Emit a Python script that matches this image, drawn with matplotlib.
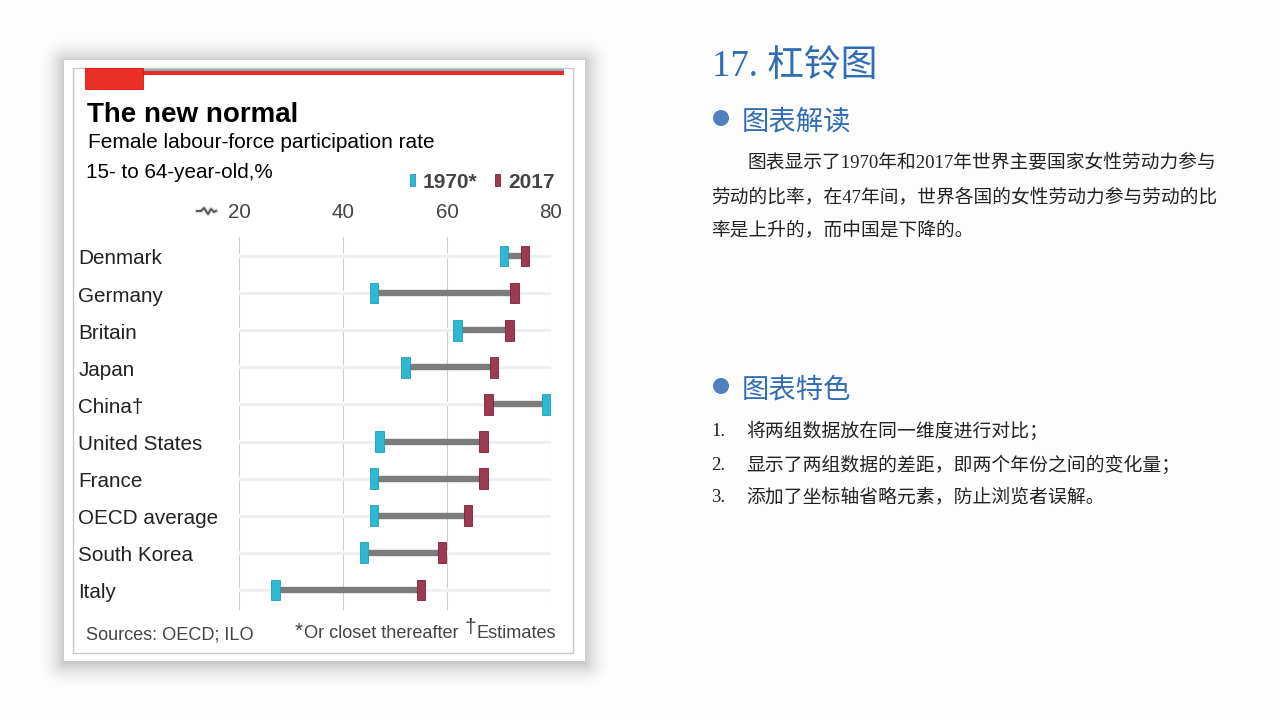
import numpy as np
import matplotlib
matplotlib.use("Agg")
import matplotlib.pyplot as plt
from matplotlib.patches import Rectangle, Circle
from matplotlib.transforms import ScaledTranslation

countries = ["Denmark", "Germany", "Britain", "Japan", "China†", "United States",
             "France", "OECD average", "South Korea", "Italy"]
y1970 = [71, 46, 62, 52, 79, 47, 46, 46, 44, 27]
y2017 = [75, 73, 72, 69, 68, 67, 67, 64, 59, 55]
xticks = [20, 40, 60, 80]

BLUE = "#2F6DB5"
DARK = "#222222"
CJK = ["Liberation Serif", "Noto Sans CJK SC"]
SANS = "Liberation Sans"

W, H = 1280, 720
fig = plt.figure(figsize=(12.8, 7.2), dpi=100, facecolor="#FDFDFD")

# page overlay in pixel coordinates
bg = fig.add_axes([0, 0, 1, 1], zorder=0)
bg.set_xlim(0, W); bg.set_ylim(H, 0); bg.axis("off")

# soft card shadow
xx, yy = np.meshgrid(np.arange(W) + 0.5, np.arange(H) + 0.5)
dx = np.maximum(np.maximum(64 - xx, xx - 585), 0)
dy = np.maximum(np.maximum(62 - yy, yy - 663), 0)
dist = np.hypot(dx, dy)
shadow = np.zeros((H, W, 4))
shadow[..., 3] = 0.20 * np.clip(1 - dist / 26, 0, 1) ** 1.8
bg.imshow(shadow, extent=(0, W, H, 0), aspect="auto", interpolation="nearest", zorder=0)
bg.set_xlim(0, W); bg.set_ylim(H, 0)

bg.add_patch(Rectangle((64, 60), 521, 601, fc="white", ec="none"))
bg.add_patch(Rectangle((73, 68), 500, 585, fc="white", ec="#C8C8C8", lw=1))

# red header
bg.add_patch(Rectangle((143, 69), 421, 2, fc="#8FB0B8", ec="none"))
bg.add_patch(Rectangle((143, 70.5), 421, 4.5, fc="#EA2A24", ec="none"))
bg.add_patch(Rectangle((85, 68), 58, 21, fc="#E93027", ec="#E01010", lw=0.6))

# chart heading
bg.text(87, 115, "The new normal", family=SANS, weight="bold", fontsize=20, color="black", va="center")
bg.text(88.5, 143, "Female labour-force participation rate", family=SANS, fontsize=15, color="black", va="center")
bg.text(86, 173, "15- to 64-year-old,%", family=SANS, fontsize=14.9, color="black", va="center")

# legend
bg.add_patch(Rectangle((410, 174), 4.5, 12, fc="#2FB8D4", ec="#1AA0BC", lw=0.6))
bg.text(423, 182, "1970*", family=SANS, weight="bold", fontsize=15, color="#444444", va="center")
bg.add_patch(Rectangle((495, 174), 4.5, 12, fc="#9C3A52", ec="#7E1F3A", lw=0.6))
bg.text(508, 182, "2017", family=SANS, weight="bold", fontsize=15, color="#444444", va="center")

# axis-break glyph
glyph_x = [197, 201, 204, 208, 211, 214, 216]
glyph_y = [211, 211, 208, 214, 209, 212, 211]
bg.plot(glyph_x, glyph_y, color="#666666", lw=3.2, alpha=0.2)
bg.plot(glyph_x, glyph_y, color="#555555", lw=1.4)

# footer
bg.text(85.5, 635, "Sources: OECD; ILO", family=SANS, fontsize=13.1, color="#444444", va="center")
bg.text(295, 631, "*", family=SANS, fontsize=15, color="#444444", va="center")
bg.text(304, 633, "Or closet thereafter", family=SANS, fontsize=13.1, color="#444444", va="center")
bg.text(465, 628, "†", family=SANS, fontsize=15, color="#444444", va="center")
bg.text(476.5, 633, "Estimates", family=SANS, fontsize=13.1, color="#444444", va="center")

# right-hand text
bg.text(712, 67, "17. 杠铃图", family=CJK, fontsize=26.5, color=BLUE, va="center")
bg.add_patch(Circle((721, 118), 8, fc="#4F81BD", ec="none"))
bg.text(742, 122.5, "图表解读", family=CJK, fontsize=19.7, color=BLUE, va="center")
bg.add_patch(Circle((721, 386), 8, fc="#4F81BD", ec="none"))
bg.text(742, 390.5, "图表特色", family=CJK, fontsize=19.7, color=BLUE, va="center")

body = [(747.5, 163, "图表显示了1970年和2017年世界主要国家女性劳动力参与"),
        (711.5, 197, "劳动的比率，在47年间，世界各国的女性劳动力参与劳动的比"),
        (711.5, 230, "率是上升的，而中国是下降的。")]
for x, y, s in body:
    bg.text(x, y, s, family=CJK, fontsize=13.47, color=DARK, va="center")

items = ["将两组数据放在同一维度进行对比；",
         "显示了两组数据的差距，即两个年份之间的变化量；",
         "添加了坐标轴省略元素，防止浏览者误解。"]
for i, (y, s) in enumerate(zip([431, 465, 498], items)):
    bg.text(711.5, y, f"{i + 1}.", family=CJK, fontsize=13.5, color=DARK, va="center")
    bg.text(746.5, y, s, family=CJK, fontsize=13.55, color=DARK, va="center")

# dumbbell chart
left, right, top, bottom = 239, 551, 237, 610
ax = fig.add_axes([left / W, 1 - bottom / H, (right - left) / W, (bottom - top) / H], zorder=1)
ax.patch.set_alpha(0)
ax.set_xlim(20, 80)
ax.set_ylim(9.54, -0.51)
for s in ax.spines.values():
    s.set_visible(False)
rows = list(range(len(countries)))

ax.set_xticks(xticks)
ax.set_yticks(rows, countries)
ax.xaxis.tick_top()
ax.tick_params(axis="both", length=0)
ax.tick_params(axis="x", pad=11, labelsize=14.8, labelcolor="#444444")
ax.tick_params(axis="y", pad=0, labelsize=14.9, labelcolor=DARK)
for t in ax.get_xticklabels() + ax.get_yticklabels():
    t.set_family(SANS)
shift = ScaledTranslation(0, -1 / 100, fig.dpi_scale_trans)
for t in ax.get_yticklabels():
    t.set_horizontalalignment("left")
    t.set_x(-0.515)
    t.set_transform(t.get_transform() + shift)

ax.grid(axis="x", color="#CCCCCC", lw=0.8)
ax.set_axisbelow(True)
ax.hlines(rows, 20, 80, color="white", lw=3.2, zorder=1)
ax.hlines(rows, 20, 80, color="#F0F0F0", lw=2.2, zorder=1.1)
ax.hlines(rows, y1970, y2017, color="#7C7C7C", lw=4.6, zorder=2)
hw = 0.82
ax.barh(rows, [2 * hw] * 10, left=[v - hw for v in y1970], height=0.56,
        color="#2FB8D4", edgecolor="#1AA0BC", lw=0.6, zorder=3)
ax.barh(rows, [2 * hw] * 10, left=[v - hw for v in y2017], height=0.56,
        color="#9C3A52", edgecolor="#7E1F3A", lw=0.6, zorder=3)

fig.savefig("out.png", dpi=100, facecolor=fig.get_facecolor())
